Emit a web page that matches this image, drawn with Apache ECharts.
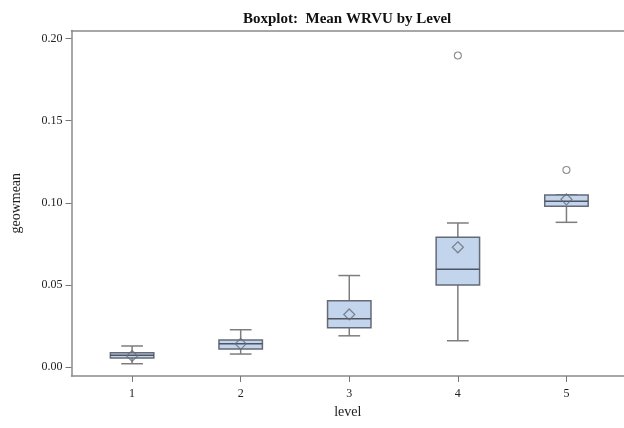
<!DOCTYPE html>
<html><head><meta charset="utf-8">
<script src="https://cdn.jsdelivr.net/npm/echarts@6/dist/echarts.min.js"></script>
<style>html,body{margin:0;padding:0;background:#fff}#c{width:624px;height:428px}</style>
</head><body><div id="c"></div>
<script>
const levels = [1, 2, 3, 4, 5];
const whiskerLow  = [0.0020, 0.0079, 0.0190, 0.0160, 0.0881];
const q1          = [0.0055, 0.0109, 0.0239, 0.0500, 0.0979];
const medians     = [0.0071, 0.0142, 0.0294, 0.0596, 0.1009];
const q3          = [0.0087, 0.0164, 0.0403, 0.0790, 0.1048];
const whiskerHigh = [0.0128, 0.0227, 0.0557, 0.0877, 0.1048];
const means       = [0.0067, 0.0141, 0.0320, 0.0729, 0.1021];
const outlierLevels = [4, 5];
const outlierValues = [0.1897, 0.1200];
const yTicks = [0, 0.05, 0.10, 0.15, 0.20];

const boxData = levels.map((l, i) => [l, whiskerLow[i], q1[i], medians[i], q3[i], whiskerHigh[i]]);
const meanData = levels.map((l, i) => [l, means[i]]);
const outData = outlierLevels.map((l, i) => [l, outlierValues[i]]);

const font = 'Liberation Serif';
const chart = echarts.init(document.getElementById('c'));
chart.setOption({
  animation: false,
  title: {
    text: 'Boxplot:  Mean WRVU by Level', left: 238, top: 7,
    textStyle: { fontFamily: font, fontSize: 15, fontWeight: 'bold', color: '#111' }
  },
  grid: { left: 71.5, right: 0, top: 30.5, bottom: 52 },
  xAxis: [{
    type: 'value', min: 0.442, max: 5.53,
    name: 'level', nameLocation: 'middle', nameGap: 28,
    nameTextStyle: { fontFamily: font, fontSize: 14, color: '#222' },
    axisLine: { show: true, onZero: false, lineStyle: { color: '#8a8a8a', width: 1.5 } },
    axisTick: { show: true, length: 6, customValues: levels, lineStyle: { color: '#777' } },
    axisLabel: { customValues: levels, margin: 12, fontFamily: font, fontSize: 12, color: '#222' },
    splitLine: { show: false }
  }, {
    type: 'value', position: 'top', min: 0.442, max: 5.53,
    axisLine: { show: true, onZero: false, lineStyle: { color: '#8a8a8a', width: 1.5 } },
    axisTick: { show: false }, axisLabel: { show: false }, splitLine: { show: false }
  }],
  yAxis: {
    type: 'value', min: -0.00547, max: 0.2049,
    name: 'geowmean', nameLocation: 'middle', nameGap: 48, nameRotate: 90,
    nameTextStyle: { fontFamily: font, fontSize: 14, color: '#222' },
    axisLine: { show: true, onZero: false, lineStyle: { color: '#8a8a8a', width: 1.5 } },
    axisTick: { show: true, length: 6, customValues: yTicks, lineStyle: { color: '#777' } },
    axisLabel: { customValues: yTicks, margin: 9, fontFamily: font, fontSize: 12, color: '#222',
      formatter: v => v.toFixed(2) },
    splitLine: { show: false }
  },
  series: [{
    type: 'custom',
    data: boxData,
    encode: { x: 0, y: [1, 2, 3, 4, 5] },
    renderItem: function (params, api) {
      const x = api.value(0);
      const pLow = api.coord([x, api.value(1)]);
      const pQ1 = api.coord([x, api.value(2)]);
      const pMed = api.coord([x, api.value(3)]);
      const pQ3 = api.coord([x, api.value(4)]);
      const pHigh = api.coord([x, api.value(5)]);
      const unit = api.size([1, 0])[0];
      const hw = unit * 0.2, cw = unit * 0.1;
      const cx = pMed[0];
      const wStyle = { stroke: '#7d7d7d', lineWidth: 1.5 };
      return {
        type: 'group',
        children: [
          { type: 'line', shape: { x1: cx, y1: pQ1[1], x2: cx, y2: pLow[1] }, style: wStyle },
          { type: 'line', shape: { x1: cx, y1: pQ3[1], x2: cx, y2: pHigh[1] }, style: wStyle },
          { type: 'line', shape: { x1: cx - cw, y1: pLow[1], x2: cx + cw, y2: pLow[1] }, style: wStyle },
          { type: 'line', shape: { x1: cx - cw, y1: pHigh[1], x2: cx + cw, y2: pHigh[1] }, style: wStyle },
          { type: 'rect', shape: { x: cx - hw, y: pQ3[1], width: 2 * hw, height: pQ1[1] - pQ3[1] },
            style: { fill: '#c3d5ec', stroke: '#646a76', lineWidth: 1.5 } },
          { type: 'line', shape: { x1: cx - hw, y1: pMed[1], x2: cx + hw, y2: pMed[1] },
            style: { stroke: '#4f5460', lineWidth: 1.5 } }
        ]
      };
    }
  }, {
    type: 'scatter', data: meanData, symbol: 'diamond', symbolSize: 11,
    itemStyle: { color: 'rgba(0,0,0,0)', borderColor: '#656b78', borderWidth: 1.2 }, z: 5
  }, {
    type: 'scatter', data: outData, symbol: 'circle', symbolSize: 7,
    itemStyle: { color: 'rgba(0,0,0,0)', borderColor: '#6f6f6f', borderWidth: 1.1 }, z: 5
  }]
});
</script></body></html>
